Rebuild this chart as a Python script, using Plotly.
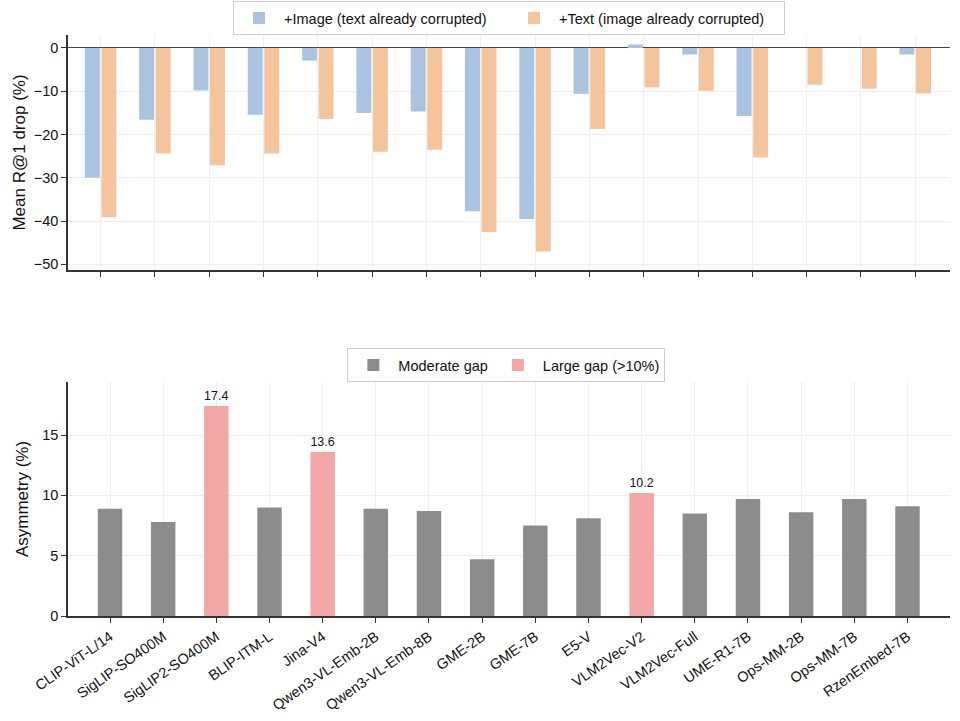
import plotly.graph_objects as go
from plotly.subplots import make_subplots

MODELS = [
    "CLIP-ViT-L/14", "SigLIP-SO400M", "SigLIP2-SO400M", "BLIP-ITM-L", "Jina-V4",
    "Qwen3-VL-Emb-2B", "Qwen3-VL-Emb-8B", "GME-2B", "GME-7B", "E5-V",
    "VLM2Vec-V2", "VLM2Vec-Full", "UME-R1-7B", "Ops-MM-2B", "Ops-MM-7B", "RzenEmbed-7B",
]

# mean R@1 drop (%)
IMAGE_DROP = [-30.0, -16.6, -9.8, -15.4, -2.9, -15.0, -14.7, -37.7,
              -39.5, -10.6, 0.8, -1.5, -15.7, 0.0, 0.0, -1.5]
TEXT_DROP = [-39.1, -24.4, -27.1, -24.4, -16.4, -24.0, -23.5, -42.5,
             -47.0, -18.7, -9.1, -9.9, -25.3, -8.5, -9.4, -10.5]

# asymmetry (%)
ASYMMETRY = [8.9, 7.8, 17.4, 9.0, 13.6, 8.9, 8.7, 4.7,
             7.5, 8.1, 10.2, 8.5, 9.7, 8.6, 9.7, 9.1]

LARGE_GAP = 10.0

BLUE = "#a9c3e0"
ORANGE = "#f4c49d"
GRAY = "#8c8c8c"
PINK = "#f2a6a6"
FONT = "Liberation Sans"

fig = make_subplots(rows=2, cols=1)

fig.add_trace(go.Bar(x=MODELS, y=IMAGE_DROP, name="+Image (text already corrupted)",
                     marker=dict(color=BLUE, line=dict(width=0)),
                     width=0.275, offset=-0.29), row=1, col=1)
fig.add_trace(go.Bar(x=MODELS, y=TEXT_DROP, name="+Text (image already corrupted)",
                     marker=dict(color=ORANGE, line=dict(width=0)),
                     width=0.275, offset=0.015), row=1, col=1)

mod_x = [m for m, a in zip(MODELS, ASYMMETRY) if a <= LARGE_GAP]
mod_y = [a for a in ASYMMETRY if a <= LARGE_GAP]
big_x = [m for m, a in zip(MODELS, ASYMMETRY) if a > LARGE_GAP]
big_y = [a for a in ASYMMETRY if a > LARGE_GAP]

fig.add_trace(go.Bar(x=mod_x, y=mod_y, name="Moderate gap",
                     marker=dict(color=GRAY, line=dict(width=0)),
                     width=0.46, legend="legend2"), row=2, col=1)
fig.add_trace(go.Bar(x=big_x, y=big_y, name="Large gap (>10%)",
                     marker=dict(color=PINK, line=dict(width=0)),
                     width=0.46, legend="legend2",
                     text=[f"{v:.1f}" for v in big_y], textposition="outside",
                     textfont=dict(family=FONT, size=14, color="#111111"),
                     cliponaxis=False), row=2, col=1)

axis_common = dict(showline=True, linecolor="#333333", linewidth=1.5,
                   ticks="outside", ticklen=5, tickcolor="#333333", tickwidth=1.2,
                   showgrid=True, gridcolor="#eeeeee", gridwidth=1, automargin=False,
                   tickfont=dict(family=FONT, size=14.5, color="#111111"))

fig.update_xaxes(**axis_common)
fig.update_yaxes(**axis_common)

fig.update_xaxes(range=[-0.6, 15.64], showticklabels=False, categoryorder="array",
                 categoryarray=MODELS, row=1, col=1)
fig.update_xaxes(range=[-0.79, 15.8], tickangle=-35, categoryorder="array",
                 categoryarray=MODELS, row=2, col=1)
fig.update_yaxes(domain=[0.5955, 1.0], range=[-51.3, 3.0],
                 tickvals=[0, -10, -20, -30, -40, -50],
                 ticktext=["0", "\u221210", "\u221220", "\u221230", "\u221240", "\u221250"],
                 zeroline=True, zerolinecolor="#444444", zerolinewidth=1.2,
                 title=dict(text="Mean R@1 drop (%)",
                            font=dict(family=FONT, size=17, color="#111111"), standoff=4),
                 row=1, col=1)
fig.update_yaxes(domain=[0.0, 0.4028], range=[0, 19.4], tickvals=[0, 5, 10, 15],
                 zeroline=False,
                 title=dict(text="Asymmetry (%)",
                            font=dict(family=FONT, size=17, color="#111111"), standoff=9),
                 row=2, col=1)

legend_style = dict(orientation="h", xanchor="center", yanchor="bottom",
                    bgcolor="white", bordercolor="#cccccc", borderwidth=1,
                    itemwidth=40, font=dict(family=FONT, size=14.5, color="#111111"))

fig.update_layout(
    width=960, height=721,
    margin=dict(l=68, r=10, t=35, b=105, autoexpand=False),
    plot_bgcolor="white", paper_bgcolor="white",
    font=dict(family=FONT, color="#111111"),
    barmode="overlay",
    legend=dict(x=0.5, y=1.0, entrywidth=220, **legend_style),
    legend2=dict(x=0.497, y=0.4028, **legend_style),
    showlegend=True,
)

fig.write_html("out.html", config={"displayModeBar": False},
               post_script="document.body.style.margin='0';")
